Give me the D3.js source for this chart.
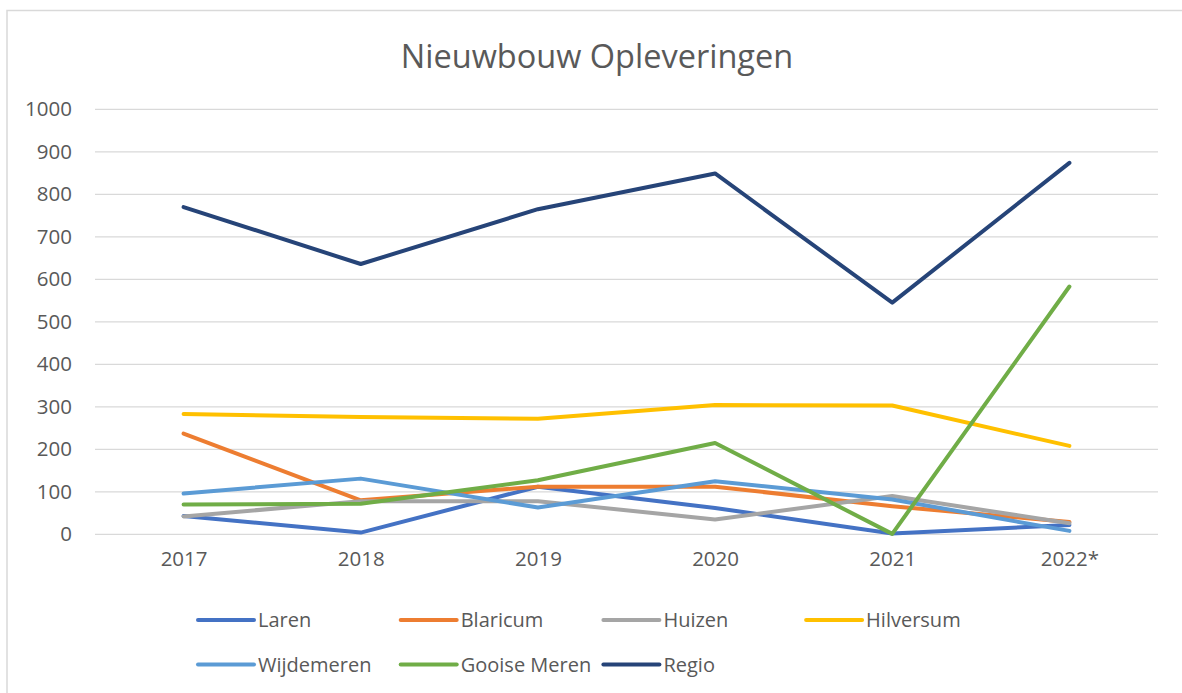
<!DOCTYPE html>
<html>
<head>
<meta charset="utf-8">
<script src="https://cdn.jsdelivr.net/npm/d3@7"></script>
<style>
  html, body { margin: 0; padding: 0; background: #fff; }
  svg { display: block; }
  text { font-family: "Open Sans", "Noto Sans", sans-serif; fill: #595959; }
</style>
</head>
<body>
<svg id="chart" width="1182" height="693"></svg>
<script>
const categories = ["2017", "2018", "2019", "2020", "2021", "2022*"];
const yTicks = [0, 100, 200, 300, 400, 500, 600, 700, 800, 900, 1000];
const seriesNames = ["Laren", "Blaricum", "Huizen", "Hilversum", "Wijdemeren", "Gooise Meren", "Regio"];
const laren       = [43, 4, 112, 62, 2, 22];
const blaricum    = [237, 80, 112, 112, 66, 29];
const huizen      = [42, 78, 78, 35, 90, 26];
const hilversum   = [283, 276, 272, 304, 303, 208];
const wijdemeren  = [96, 131, 63, 125, 82, 8];
const gooiseMeren = [70, 72, 127, 215, 1, 583];
const regio       = [770, 636, 765, 849, 545, 874];
const colors = ["#4472C4", "#ED7D31", "#A5A5A5", "#FFC000", "#5B9BD5", "#70AD47", "#264478"];
const title = "Nieuwbouw Opleveringen";

const seriesValues = [laren, blaricum, huizen, hilversum, wijdemeren, gooiseMeren, regio];
const series = seriesNames.map((name, i) => ({ name, values: seriesValues[i], color: colors[i] }));

const svg = d3.select("#chart");

// outer chart border (only top/left visible in frame)
svg.append("rect")
  .attr("x", 7).attr("y", 10.5)
  .attr("width", 1200).attr("height", 700)
  .attr("fill", "none").attr("stroke", "#d9d9d9").attr("stroke-width", 1.5);

const x = d3.scalePoint().domain(categories).range([95, 1158]).padding(0.5);
const y = d3.scaleLinear().domain([0, 1000]).range([534.3, 109.3]);

// title
svg.append("text")
  .attr("x", 597).attr("y", 68)
  .attr("text-anchor", "middle")
  .style("font-size", "32.5px")
  .text(title);

// gridlines
svg.append("g").selectAll("line").data(yTicks).join("line")
  .attr("x1", 95).attr("x2", 1158)
  .attr("y1", d => y(d)).attr("y2", d => y(d))
  .attr("stroke", "#d9d9d9").attr("stroke-width", 1.3);

// y axis labels
const yAxis = d3.axisLeft(y).tickValues(yTicks).tickSize(0).tickPadding(0).tickFormat(d3.format("d"));
const gy = svg.append("g").attr("transform", "translate(72,0)").call(yAxis);
gy.select(".domain").remove();
gy.selectAll("text").style("font-size", "20.5px").attr("fill", "#595959").attr("font-family", null);

// x axis labels
const xAxis = d3.axisBottom(x).tickSize(0).tickPadding(0);
const gx = svg.append("g").attr("transform", "translate(0,551)").call(xAxis);
gx.select(".domain").remove();
gx.selectAll("text").style("font-size", "20.5px").attr("fill", "#595959").attr("font-family", null);

// lines
const line = d3.line().x((d, i) => x(categories[i])).y(d => y(d));
svg.append("g").selectAll("path").data(series).join("path")
  .attr("d", d => line(d.values))
  .attr("fill", "none")
  .attr("stroke", d => d.color)
  .attr("stroke-width", 4)
  .attr("stroke-linecap", "round")
  .attr("stroke-linejoin", "round");

// legend
const legend = svg.append("g").selectAll("g").data(series).join("g")
  .attr("transform", (d, i) => `translate(${198 + (i % 4) * 202.7},${620 + Math.floor(i / 4) * 44.5})`);
legend.append("line")
  .attr("x1", 0).attr("x2", 56).attr("y1", 0).attr("y2", 0)
  .attr("stroke", d => d.color).attr("stroke-width", 4).attr("stroke-linecap", "round");
legend.append("text")
  .attr("x", 60).attr("y", 0).attr("dy", "0.35em")
  .style("font-size", "20px")
  .text(d => d.name);
</script>
</body>
</html>
